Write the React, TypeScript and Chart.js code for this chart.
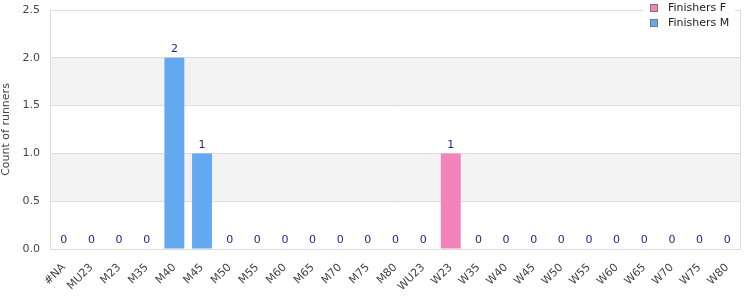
import React, { useEffect, useRef } from "react";
import { Chart, registerables } from "chart.js";

Chart.register(...registerables);

const categories = [
  "#NA", "MU23", "M23", "M35", "M40", "M45", "M50", "M55", "M60", "M65", "M70", "M75", "M80",
  "WU23", "W23", "W35", "W40", "W45", "W50", "W55", "W60", "W65", "W70", "W75", "W80",
];
const finishersF = [0, 0, 0, 0, 0, 0, 0, 0, 0, 0, 0, 0, 0, 0, 1, 0, 0, 0, 0, 0, 0, 0, 0, 0, 0];
const finishersM = [0, 0, 0, 0, 2, 1, 0, 0, 0, 0, 0, 0, 0, 0, 0, 0, 0, 0, 0, 0, 0, 0, 0, 0, 0];
const yTicks = [0, 0.5, 1, 1.5, 2, 2.5];
const bands = [[0.5, 1.0], [1.5, 2.0]];

const FONT = '"DejaVu Sans", sans-serif';
const colorF = "#f283bb";
const colorM = "#63a9f2";

const bandPlugin = {
  id: "bands",
  beforeDraw(chart: any) {
    const { ctx, chartArea } = chart;
    const y = chart.scales.y;
    ctx.save();
    ctx.fillStyle = "#f3f3f3";
    for (const [a, b] of bands) {
      const y1 = y.getPixelForValue(b);
      const y0 = y.getPixelForValue(a);
      ctx.fillRect(chartArea.left, y1, chartArea.right - chartArea.left, y0 - y1);
    }
    ctx.restore();
  },
  beforeDatasetsDraw(chart: any) {
    const { ctx, chartArea } = chart;
    ctx.save();
    ctx.strokeStyle = "#dddddd";
    ctx.lineWidth = 1;
    ctx.strokeRect(
      Math.round(chartArea.left) + 0.5,
      Math.round(chartArea.top) + 0.5,
      Math.round(chartArea.right - chartArea.left) - 1,
      Math.round(chartArea.bottom - chartArea.top)
    );
    ctx.restore();
  },
};

const valuePlugin = {
  id: "values",
  afterDatasetsDraw(chart: any) {
    const { ctx } = chart;
    const xs = chart.scales.x;
    const ys = chart.scales.y;
    ctx.save();
    ctx.font = `11px ${FONT}`;
    ctx.fillStyle = "#1f1f8f";
    ctx.textAlign = "center";
    ctx.textBaseline = "bottom";
    categories.forEach((_, i) => {
      const total = (finishersF[i] || 0) + (finishersM[i] || 0);
      const x = xs.getPixelForValue(i);
      const y = ys.getPixelForValue(total) - 3;
      ctx.fillText(String(total), x, y);
    });
    ctx.restore();
  },
};

const legendPlugin = {
  id: "customLegend",
  afterDraw(chart: any) {
    const { ctx, chartArea } = chart;
    const items = [
      { label: "Finishers F", color: colorF },
      { label: "Finishers M", color: colorM },
    ];
    ctx.save();
    ctx.font = `11px ${FONT}`;
    const w = Math.max(...items.map((it) => ctx.measureText(it.label).width));
    const textX = Math.round(chartArea.right - 12 - w);
    const boxX = textX - 18;
    const rectX = boxX - 7;
    ctx.fillStyle = "#ffffff";
    ctx.fillRect(rectX, 0, chartArea.right - 6 - rectX, 30);
    items.forEach((it, i) => {
      const cy = 8 + i * 15;
      ctx.fillStyle = it.color;
      ctx.fillRect(boxX + 0.5, cy - 3.5, 7, 7);
      ctx.strokeStyle = "#777777";
      ctx.lineWidth = 1;
      ctx.strokeRect(boxX + 0.5, cy - 3.5, 7, 7);
      ctx.fillStyle = "#222222";
      ctx.textAlign = "left";
      ctx.textBaseline = "middle";
      ctx.fillText(it.label, textX, cy);
    });
    ctx.restore();
  },
};

export default function App() {
  const ref = useRef<HTMLCanvasElement | null>(null);
  useEffect(() => {
    if (!ref.current) return;
    Chart.defaults.font.family = FONT;
    const chart = new Chart(ref.current, {
      type: "bar",
      data: {
        labels: categories,
        datasets: [
          { label: "Finishers F", data: finishersF, backgroundColor: colorF, borderWidth: 0 },
          { label: "Finishers M", data: finishersM, backgroundColor: colorM, borderWidth: 0 },
        ],
      },
      options: {
        responsive: false,
        animation: false,
        layout: { padding: { top: 10, right: 9, left: 0, bottom: 0 } },
        plugins: { legend: { display: false }, tooltip: { enabled: false } },
        scales: {
          x: {
            stacked: true,
            grid: { display: false },
            border: { display: false },
            ticks: {
              color: "#444444",
              font: { size: 11, family: FONT },
              maxRotation: 45,
              minRotation: 45,
              autoSkip: false,
              padding: 4,
            },
            afterFit: (s: any) => {
              s.height = 51;
              s.paddingLeft = 0;
              s.paddingRight = 0;
            },
          },
          y: {
            stacked: true,
            min: 0,
            max: 2.5,
            afterBuildTicks: (s: any) => {
              s.ticks = yTicks.map((v) => ({ value: v }));
            },
            ticks: {
              color: "#444444",
              font: { size: 11, family: FONT },
              padding: 10,
              callback: (v: any) => Number(v).toFixed(1),
            },
            grid: { color: "#dddddd", drawTicks: false },
            border: { display: false },
            title: {
              display: true,
              text: "Count of runners",
              color: "#444444",
              font: { size: 11, family: FONT },
              padding: 0,
            },
            afterFit: (s: any) => {
              s.width = 50;
              s.paddingTop = 0;
              s.paddingBottom = 0;
            },
          },
        },
      },
      plugins: [bandPlugin, valuePlugin, legendPlugin],
    });
    return () => chart.destroy();
  }, []);
  return (
    <div style={{ position: "absolute", left: 0, top: 0, width: 750, height: 300 }}>
      <canvas ref={ref} width={750} height={300} />
    </div>
  );
}
